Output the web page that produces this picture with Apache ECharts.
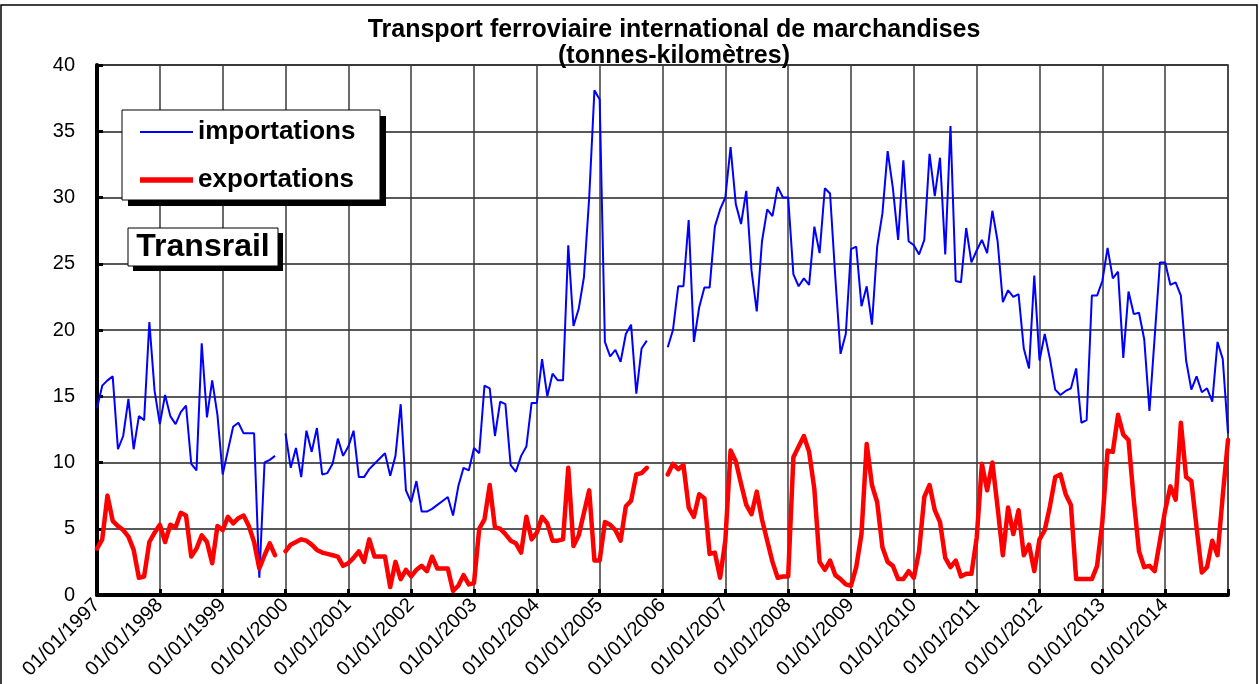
<!DOCTYPE html>
<html><head><meta charset="utf-8">
<script src="https://cdn.jsdelivr.net/npm/echarts@6/dist/echarts.min.js"></script>
<style>html,body{margin:0;padding:0;background:#fff}#c{width:1259px;height:684px}</style>
</head><body><div id="c"></div>
<script>
// Monthly categories: Jan 1997 .. Jan 2015 (217 points)
const years = [1997,1998,1999,2000,2001,2002,2003,2004,2005,2006,2007,2008,2009,2010,2011,2012,2013,2014,2015];
const categories = [];
for (const y of years) {
  for (let m = 1; m <= 12; m++) {
    if (categories.length < 217) categories.push('01/' + String(m).padStart(2, '0') + '/' + y);
  }
}
const yTicks = [0, 5, 10, 15, 20, 25, 30, 35, 40];

const importations = [
  14.1, 15.8, 16.2, 16.5, 11.0, 12.0, 14.8, 11.0, 13.5, 13.2, 20.6, 15.4, // 1997
  12.9, 15.1, 13.5, 12.9, 13.8, 14.3, 9.9, 9.4, 19.0, 13.4, 16.2, 13.6,   // 1998
  9.1, 10.9, 12.7, 13.0, 12.2, 12.2, 12.2, 1.3, 10.0, 10.2, 10.5, null,   // 1999
  12.2, 9.6, 11.1, 8.9, 12.4, 10.8, 12.6, 9.1, 9.2, 9.9, 11.8, 10.5,      // 2000
  11.2, 12.4, 8.9, 8.9, 9.5, 9.9, 10.3, 10.7, 9.0, 10.5, 14.4, 7.9,       // 2001
  7.0, 8.6, 6.3, 6.3, 6.5, 6.8, 7.1, 7.4, 6.0, 8.2, 9.6, 9.4,             // 2002
  11.1, 10.7, 15.8, 15.6, 12.0, 14.6, 14.4, 9.8, 9.3, 10.5, 11.2, 14.5,   // 2003
  14.5, 17.8, 15.0, 16.7, 16.2, 16.2, 26.4, 20.3, 21.6, 24.0, 30.0, 38.1, // 2004
  37.4, 19.1, 18.0, 18.5, 17.6, 19.7, 20.4, 15.2, 18.6, 19.2, null, null, // 2005
  null, 18.7, 20.0, 23.3, 23.3, 28.3, 19.1, 21.7, 23.2, 23.2, 27.8, 29.1, // 2006
  30.0, 33.8, 29.5, 28.0, 30.5, 24.5, 21.4, 26.7, 29.1, 28.6, 30.8, 30.0, // 2007
  30.0, 24.2, 23.3, 23.9, 23.4, 27.8, 25.8, 30.7, 30.3, 24.0, 18.2, 19.7, // 2008
  26.1, 26.3, 21.8, 23.3, 20.4, 26.3, 28.8, 33.5, 30.7, 26.8, 32.8, 26.7, // 2009
  26.4, 25.7, 26.8, 33.3, 30.1, 33.0, 25.7, 35.4, 23.7, 23.6, 27.7, 25.1, // 2010
  26.0, 26.8, 25.8, 29.0, 26.7, 22.1, 23.0, 22.5, 22.7, 18.6, 17.1, 24.1, // 2011
  17.7, 19.7, 17.8, 15.5, 15.1, 15.4, 15.6, 17.1, 13.0, 13.2, 22.6, 22.6, // 2012
  23.7, 26.2, 23.9, 24.4, 17.9, 22.9, 21.2, 21.3, 19.3, 13.9, 19.5, 25.1, // 2013
  25.1, 23.4, 23.6, 22.6, 17.7, 15.5, 16.5, 15.3, 15.6, 14.6, 19.1, 17.8, // 2014
  12.2                                                                    // 2015
];

const exportations = [
  3.5, 4.2, 7.5, 5.6, 5.2, 4.9, 4.4, 3.4, 1.3, 1.4, 4.0, 4.7,     // 1997
  5.3, 4.0, 5.3, 5.1, 6.2, 6.0, 2.9, 3.5, 4.5, 4.0, 2.4, 5.2,     // 1998
  4.9, 5.9, 5.4, 5.8, 6.0, 5.2, 4.0, 2.0, 3.0, 3.9, 3.0, null,    // 1999
  3.3, 3.8, 4.0, 4.2, 4.1, 3.8, 3.4, 3.2, 3.1, 3.0, 2.9, 2.2,     // 2000
  2.4, 2.8, 3.3, 2.5, 4.2, 2.9, 2.9, 2.9, 0.6, 2.5, 1.2, 1.9,     // 2001
  1.4, 1.9, 2.2, 1.8, 2.9, 2.0, 2.0, 2.0, 0.3, 0.7, 1.5, 0.8,     // 2002
  0.9, 5.0, 5.7, 8.3, 5.1, 5.0, 4.6, 4.1, 3.9, 3.2, 5.9, 4.2,     // 2003
  4.7, 5.9, 5.4, 4.1, 4.1, 4.2, 9.6, 3.7, 4.5, 6.2, 7.9, 2.6,     // 2004
  2.6, 5.5, 5.3, 4.9, 4.1, 6.7, 7.1, 9.1, 9.2, 9.6, null, null,   // 2005
  null, 9.1, 9.9, 9.5, 9.8, 6.6, 5.9, 7.6, 7.3, 3.1, 3.2, 1.3,    // 2006
  4.1, 10.9, 10.1, 8.4, 6.8, 6.1, 7.8, 5.7, 4.1, 2.5, 1.3, 1.4,   // 2007
  1.4, 10.4, 11.2, 12.0, 10.8, 8.0, 2.5, 1.9, 2.6, 1.5, 1.2, 0.8, // 2008
  0.7, 2.1, 4.6, 11.4, 8.3, 7.0, 3.6, 2.5, 2.2, 1.2, 1.2, 1.8,    // 2009
  1.3, 3.3, 7.4, 8.3, 6.4, 5.5, 2.8, 2.1, 2.6, 1.4, 1.6, 1.6,     // 2010
  4.3, 9.9, 7.9, 10.0, 6.6, 3.0, 6.6, 4.6, 6.4, 3.0, 3.8, 1.8,    // 2011
  4.2, 4.9, 6.7, 8.9, 9.1, 7.6, 6.8, 1.2, 1.2, 1.2, 1.2, 2.2,     // 2012
  5.5, 10.9, 10.8, 13.6, 12.1, 11.7, 7.2, 3.3, 2.1, 2.2, 1.8, 4.1,// 2013
  6.4, 8.2, 7.2, 13.0, 8.9, 8.6, 5.1, 1.7, 2.1, 4.1, 3.0, 7.5,    // 2014
  11.7                                                            // 2015
];

const FONT = '"Liberation Sans", Arial, sans-serif';
const chart = echarts.init(document.getElementById('c'), null, { renderer: 'canvas' });
chart.setOption({
  animation: false,
  backgroundColor: '#ffffff',
  title: {
    text: 'Transport ferroviaire international de marchandises\n(tonnes-kilomètres)',
    left: 669, top: 12, textAlign: 'center',
    textStyle: { fontFamily: FONT, fontWeight: 'bold', fontSize: 25, lineHeight: 26, color: '#000' }
  },
  grid: { left: 97, right: 31, top: 65, bottom: 89, show: true, borderColor: '#808080', borderWidth: 2, backgroundColor: 'transparent' },
  legend: {
    z: 10,
    left: 122, top: 110, orient: 'vertical', itemGap: 22, itemWidth: 53, itemHeight: 14,
    padding: [9, 18, 9, 18], selectedMode: false,
    textStyle: { fontFamily: FONT, fontSize: 26, fontWeight: 'bold', color: '#000', lineHeight: 25 },
    data: [
      { name: 'importations', icon: 'path://M0,0H50V2H0Z' },
      { name: 'exportations', icon: 'path://M0,0H50V5H0Z' }
    ]
  },
  xAxis: {
    type: 'category', data: categories, boundaryGap: false,
    axisLine: { lineStyle: { color: '#000', width: 4 } },
    axisTick: { inside: true, length: 6, interval: 11, lineStyle: { width: 3, color: '#000' } },
    axisLabel: { interval: function (i) { return i % 12 === 0 && i < 216; }, rotate: 45, fontSize: 20, color: '#000', margin: 7, fontFamily: FONT },
    splitLine: { show: true, interval: 11, lineStyle: { color: '#3a3a3a', width: 1.5 } }
  },
  yAxis: {
    type: 'value', min: yTicks[0], max: yTicks[yTicks.length - 1], interval: 5,
    axisLine: { show: true, lineStyle: { color: '#000', width: 4 } },
    axisTick: { show: true, inside: true, length: 6, lineStyle: { width: 3, color: '#000' } },
    axisLabel: { fontSize: 20, color: '#000', margin: 22, fontFamily: FONT },
    splitLine: { lineStyle: { color: '#222', width: 1.5 } }
  },
  series: [
    { name: 'importations', type: 'line', data: importations, symbol: 'none', connectNulls: false,
      lineStyle: { color: '#0000ff', width: 2 }, itemStyle: { color: '#0000ff' } },
    { name: 'exportations', type: 'line', data: exportations, symbol: 'none', connectNulls: false,
      lineStyle: { color: '#ff0000', width: 4.5, join: 'round', cap: 'round' }, itemStyle: { color: '#ff0000' } }
  ],
  graphic: [
    { type: 'rect', z: 1, shape: { x: 1, y: 5, width: 1256, height: 700 }, style: { fill: 'none', stroke: '#000', lineWidth: 1.5 } },
    { type: 'rect', z: 5, shape: { x: 128, y: 116, width: 258, height: 90 }, style: { fill: '#000' } },
    { type: 'rect', z: 6, shape: { x: 122, y: 110, width: 258, height: 90 }, style: { fill: '#fff', stroke: '#000', lineWidth: 1 } },
    { type: 'rect', z: 5, shape: { x: 133, y: 233, width: 150, height: 38 }, style: { fill: '#000' } },
    { type: 'rect', z: 6, shape: { x: 128, y: 228, width: 150, height: 38 }, style: { fill: '#fff', stroke: '#000', lineWidth: 1 } },
    { type: 'text', z: 7, x: 203, y: 247, style: { text: 'Transrail', fontFamily: FONT, fontWeight: 'bold', fontSize: 32, fill: '#000', textAlign: 'center', textVerticalAlign: 'middle' } }
  ]
});
</script>
</body></html>
